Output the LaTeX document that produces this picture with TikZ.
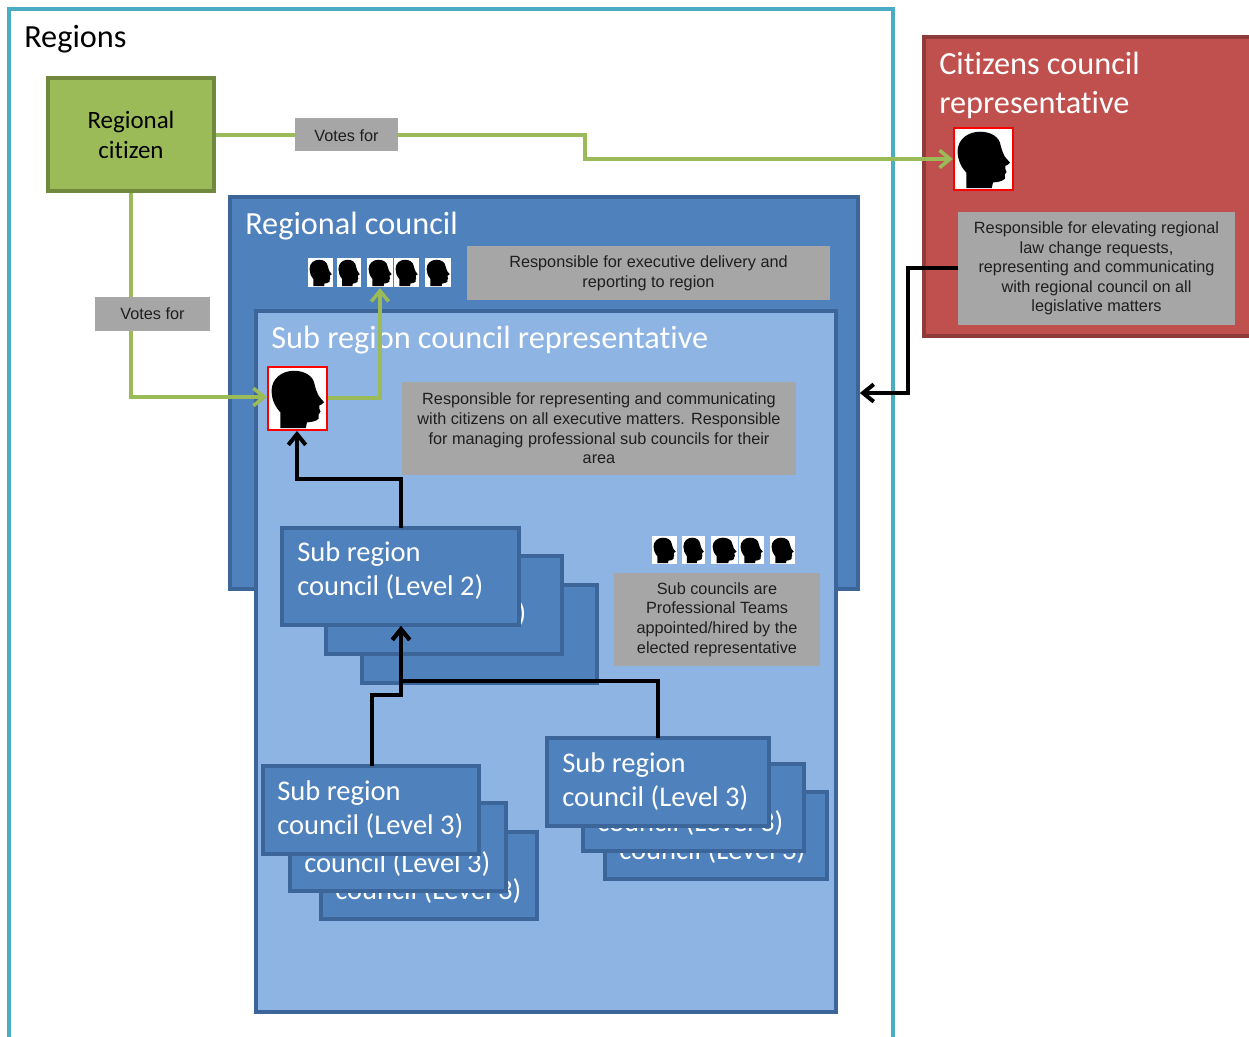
\documentclass[tikz,border=0pt]{standalone}
\usepackage{fontspec}
\setmainfont[Ligatures=NoCommon]{Carlito}
\newfontfamily\arialf{Liberation Sans}
\usetikzlibrary{arrows.meta}
\definecolor{cyanline}{HTML}{4BACC6}
\definecolor{redfill}{HTML}{C0504D}
\definecolor{redline}{HTML}{8F3B39}
\definecolor{greenfill}{HTML}{9BBB59}
\definecolor{greenline}{HTML}{71893F}
\definecolor{bluefill}{HTML}{4F81BD}
\definecolor{blueline}{HTML}{3C659A}
\definecolor{lightblue}{HTML}{8EB4E3}
\definecolor{notegray}{HTML}{A6A6A6}
\tikzset{
  x=0.75pt,y=-0.75pt,
  panel/.style={line width=2.8pt,inner sep=0pt},
  regionbox/.style={panel,draw=cyanline,fill=white},
  redbox/.style={panel,draw=redline,fill=redfill},
  greenbox/.style={panel,draw=greenline,fill=greenfill,text=black,font=\fontsize{18.7}{22.5}\selectfont,align=center},
  bluebox/.style={panel,draw=blueline,fill=bluefill},
  lightbox/.style={panel,draw=blueline,fill=lightblue},
  stackbox/.style={panel,line width=2.4pt,draw=blueline,fill=bluefill},
  notebox/.style={inner sep=0pt,fill=notegray,text=black!88,align=center,font=\arialf\fontsize{12.2}{14.7}\selectfont},
  title/.style={inner sep=0pt,anchor=west,text=white,align=left,font=\fontsize{24.2}{29.5}\selectfont},
  stacktext/.style={inner sep=0pt,anchor=west,text=white,align=left,font=\fontsize{21.4}{25.5}\selectfont},
  headframe/.style={inner sep=0pt,fill=white},
  redframe/.style={headframe,draw=red,line width=1.5pt},
  softshadow/.style={preaction={draw=black,draw opacity=.16,transform canvas={shift={(.6pt,-.9pt)}}}},
  greenarrow/.style={softshadow,draw=greenfill,line width=2.7pt,-{Straight Barb[length=8pt,width=13pt,line width=2.7pt]},line join=miter},
  blackarrow/.style={softshadow,draw=black,line width=3pt,-{Straight Barb[length=8pt,width=13pt,line width=3pt]},line join=miter},
}
% name, x1,y1,x2,y2, style, text
\newcommand\bx[7]{%
  \pgfmathsetmacro\cxv{(#2+#4)/2}\pgfmathsetmacro\cyv{(#3+#5)/2}%
  \pgfmathsetmacro\wv{(#4-#2)*0.75}\pgfmathsetmacro\hv{(#5-#3)*0.75}%
  \node[#6,minimum width=\wv pt,minimum height=\hv pt] (#1) at (\cxv,\cyv) {#7};}
% name, x1,y1,x2,y2, frame style
\newcommand\hd[6]{%
  \bx{#1}{#2}{#3}{#4}{#5}{#6}{}%
  \pgfmathsetmacro\wv{(#4-#2)*0.75}\pgfmathsetmacro\hv{(#5-#3)*0.75}%
  \begin{scope}[shift={(#2,#3)},x=\wv pt,y=-\hv pt]
    \fill[black] (.21,.97) -- (.21,.72) .. controls (.11,.62) and (.06,.50) .. (.06,.38)
      .. controls (.06,.18) and (.24,.06) .. (.44,.06)
      .. controls (.62,.06) and (.77,.14) .. (.79,.28)
      .. controls (.81,.36) and (.84,.42) .. (.86,.46)
      -- (.95,.56) .. controls (.93,.59) and (.89,.60) .. (.87,.61)
      -- (.87,.66) -- (.89,.71) -- (.86,.75) -- (.86,.82)
      .. controls (.81,.87) and (.72,.87) .. (.66,.88) -- (.64,.97) -- cycle;
  \end{scope}}
\begin{document}
\begin{tikzpicture}
\useasboundingbox (0,0) rectangle (1249,1036);
\clip (0,0) rectangle (1249,1036);
\fill[white] (0,0) rectangle (1249,1036);
% outer panels
\bx{regions}{9}{9}{893}{1060}{regionbox}{}
\node[title,text=black] (regionsT) at (24,39) {Regions};
\bx{citrep}{924}{37}{1270}{336}{redbox}{}
\node[title] (citrepT) at (939,85.5) {Citizens council\\representative};
\bx{citizen}{48}{78}{214}{191}{greenbox}{Regional\\citizen}
\bx{council}{230}{197}{858}{589}{bluebox}{}
\node[title] (councilT) at (245,226) {Regional council};
\bx{subrep}{256}{311}{836}{1012}{lightbox}{}
\node[title] (subrepT) at (271,340) {Sub region council representative};
% heads
\hd{hcit}{954}{128}{1013}{190}{redframe}
\hd{hsub}{268}{367}{327}{430}{redframe}
\hd{ha}{308}{258}{333}{287}{headframe}
\hd{hb}{337}{258}{361}{287}{headframe}
\hd{hc}{367}{258}{393}{287}{headframe}
\hd{hd}{394}{258}{419}{287}{headframe}
\hd{he}{425}{258}{451}{287}{headframe}
\hd{hf}{652}{536}{677}{564}{headframe}
\hd{hg}{682}{536}{705}{564}{headframe}
\hd{hh}{711}{536}{738}{564}{headframe}
\hd{hi}{739}{536}{764}{564}{headframe}
\hd{hj}{770}{536}{795}{564}{headframe}
% notes
\bx{nexec}{467}{246}{830}{300}{notebox}{Responsible for executive delivery and\\reporting to region}
\bx{nsub}{402}{382}{796}{475}{notebox}{Responsible for representing and communicating\\with citizens on all executive matters. Responsible\\for managing professional sub councils for their\\area}
\bx{nteam}{614}{573}{820}{666}{notebox}{Sub councils are\\Professional Teams\\appointed/hired by the\\elected representative}
\bx{ncit}{958}{212}{1235}{325}{notebox}{Responsible for elevating regional\\law change requests,\\representing and communicating\\with regional council on all\\legislative matters}
% level 2 stack
\bx{lb}{362}{585}{597}{683}{stackbox}{}
\node[stacktext] (lbT) at (376,627) {Sub region\\council (Level 2)};
\bx{la}{326}{556}{562}{654}{stackbox}{}
\node[stacktext] (laT) at (340,598) {Sub region\\council (Level 2)};
\bx{lmain}{282}{528}{519}{625}{stackbox}{}
\node[stacktext] (lmainT) at (297,571) {Sub region\\council (Level 2)};
% left level 3 stack
\bx{pb}{321}{832}{537}{919}{stackbox}{}
\node[stacktext] (pbT) at (335,875) {Sub region\\council (Level 3)};
\bx{pa}{290}{803}{506}{891}{stackbox}{}
\node[stacktext] (paT) at (304,848) {Sub region\\council (Level 3)};
\bx{pmain}{263}{766}{479}{854}{stackbox}{}
\node[stacktext] (pmainT) at (277,810) {Sub region\\council (Level 3)};
% right level 3 stack
\bx{qb}{605}{792}{827}{879}{stackbox}{}
\node[stacktext] (qbT) at (619,835) {Sub region\\council (Level 3)};
\bx{qa}{583}{764}{804}{851}{stackbox}{}
\node[stacktext] (qaT) at (597,807) {Sub region\\council (Level 3)};
\bx{qmain}{547}{738}{769}{826}{stackbox}{}
\node[stacktext] (qmainT) at (562,782) {Sub region\\council (Level 3)};
% connectors
\coordinate (m1) at (585,135);
\coordinate (m2) at (585,159);
\draw[greenarrow] (citizen.east |- 0,135) -- (m1) -- (m2) -- (hcit.west |- m2);
\draw[greenarrow] (citizen.south -| 131,0) -- (131,397) -- (hsub.west |- 0,397);
\draw[greenarrow] (hsub.east |- 0,398) -- (380,398) -- (380,288);
\draw[blackarrow] (ncit.west |- 0,268) -- (908,268) -- (908,393) -- (council.east |- 0,393);
\draw[blackarrow] (401,528) -- (401,479) -- (297,479) -- (297,431);
\draw[blackarrow] (372,766) -- (372,695) -- (401,695) -- (401,626);
\draw[blackarrow] (658,738) -- (658,681) -- (401,681) -- (401,626);
% vote labels
\bx{v1}{295}{118}{398}{151}{notebox}{\rule{0pt}{10.8pt}Votes for}
\bx{v2}{95}{297}{210}{331}{notebox}{Votes for}
\end{tikzpicture}
\end{document}
